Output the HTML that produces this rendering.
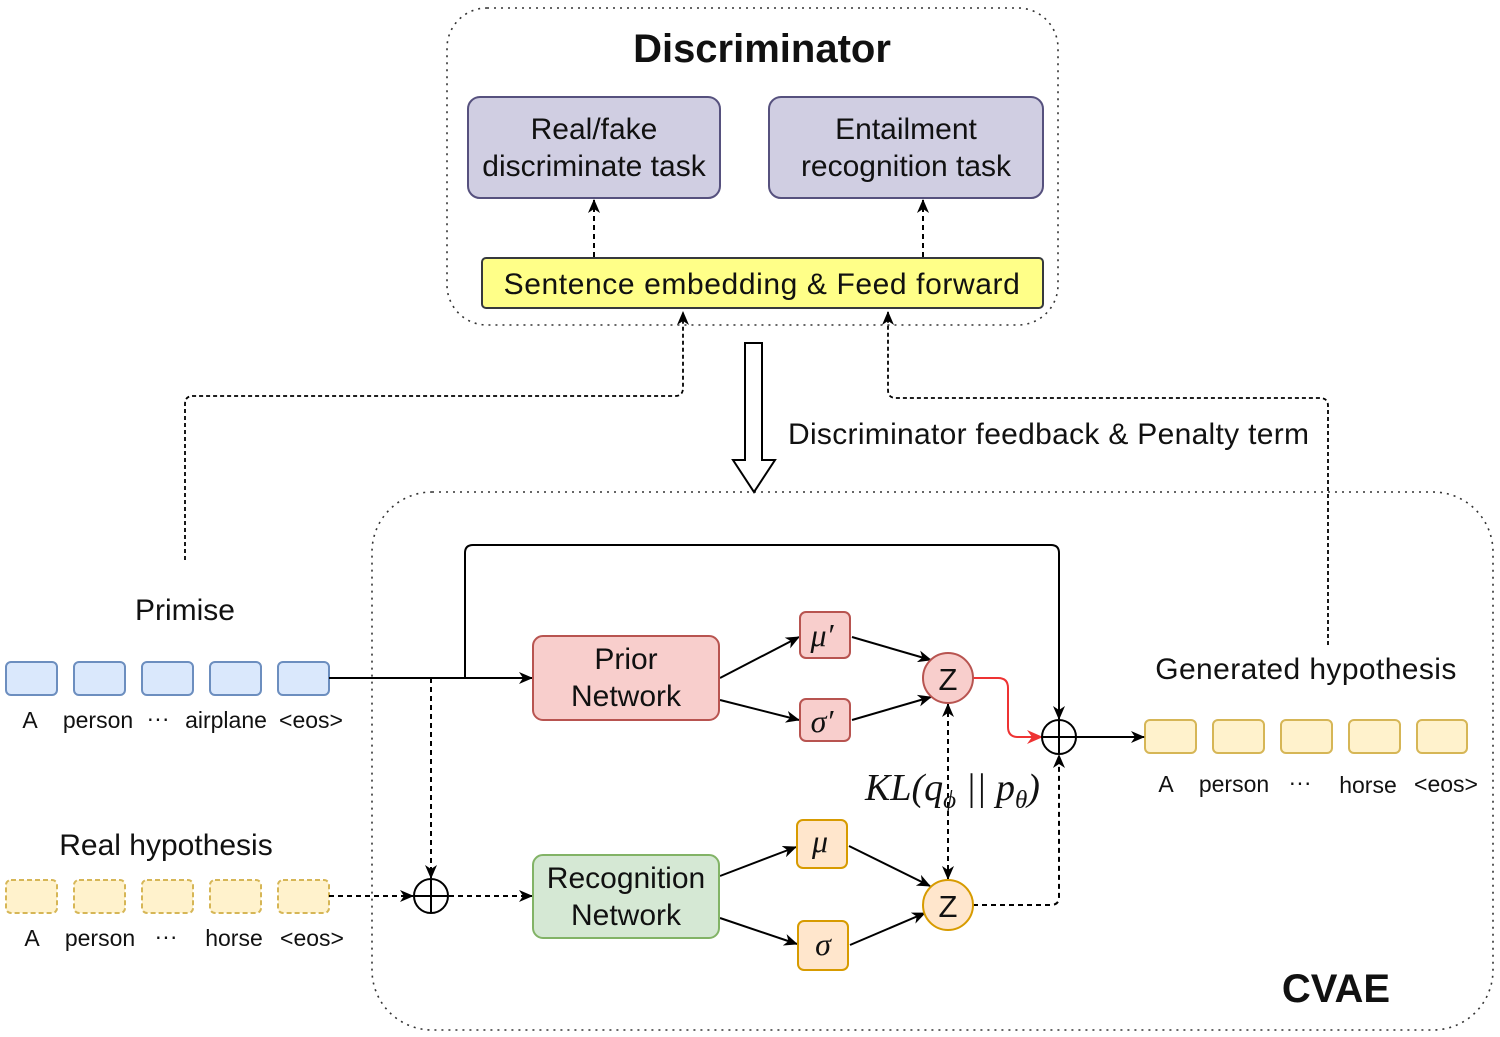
<!DOCTYPE html>
<html><head><style>body{margin:0;background:#fff}svg{display:block}text{font-family:"Liberation Sans",sans-serif;fill:#111}</style></head><body>
<svg width="1500" height="1037" viewBox="0 0 1500 1037" xmlns="http://www.w3.org/2000/svg">
<defs>
<marker id="a" markerWidth="14" markerHeight="12" refX="13" refY="6" orient="auto" markerUnits="userSpaceOnUse"><path d="M0,0 L14,6 L0,12 L4,6 z" fill="#000"/></marker>
<marker id="ar" markerWidth="16" markerHeight="14" refX="15" refY="7" orient="auto" markerUnits="userSpaceOnUse"><path d="M0,0 L16,7 L0,14 L5,7 z" fill="#e33"/></marker>
<marker id="as" markerWidth="14" markerHeight="12" refX="1" refY="6" orient="auto" markerUnits="userSpaceOnUse"><path d="M14,0 L0,6 L14,12 L10,6 z" fill="#000"/></marker>
</defs>
<g fill="none" stroke="#333" stroke-width="1.6" stroke-dasharray="2,5">
<rect x="447" y="8" width="611" height="317" rx="40"/>
<rect x="372" y="492" width="1121" height="538" rx="60"/>
</g>
<text x="762" y="62" font-size="40" font-weight="bold" text-anchor="middle" fill="#222">Discriminator</text>
<rect x="468" y="97" width="252" height="101" rx="12" fill="#d0cee2" stroke="#56517e" stroke-width="2"/>
<rect x="769" y="97" width="274" height="101" rx="12" fill="#d0cee2" stroke="#56517e" stroke-width="2"/>
<g font-size="30" text-anchor="middle">
<text x="594" y="139">Real/fake</text><text x="594" y="176">discriminate task</text>
<text x="906" y="139">Entailment</text><text x="906" y="176">recognition task</text>
</g>
<rect x="482" y="258" width="561" height="50" rx="4" fill="#ffff88" stroke="#36393d" stroke-width="2"/>
<text x="762" y="294" font-size="30" text-anchor="middle" letter-spacing="0.6">Sentence embedding &amp; Feed forward</text>
<g fill="none" stroke="#000" stroke-width="2" stroke-dasharray="5,4">
<path d="M594 257 V200" marker-end="url(#a)"/><path d="M923 257 V200" marker-end="url(#a)"/>
</g>
<g fill="none" stroke="#000" stroke-width="1.8" stroke-dasharray="4,3">
<path d="M185 560 V404 Q185 396 193 396 H675 Q683 396 683 388 V312" marker-end="url(#a)"/>
<path d="M1328 645 V406 Q1328 398 1320 398 H896 Q888 398 888 390 V312" marker-end="url(#a)"/>
</g>
<path d="M745 343 H762 V460 H775 L754 492 L733 460 H745 Z" fill="#fff" stroke="#000" stroke-width="2"/>
<text x="788" y="444" font-size="30" letter-spacing="0.3">Discriminator feedback &amp; Penalty term</text>
<text x="185" y="620" font-size="30" text-anchor="middle">Primise</text>
<g fill="#dae8fc" stroke="#6c8ebf" stroke-width="2">
<rect x="6" y="662" width="51" height="33" rx="5"/><rect x="74" y="662" width="51" height="33" rx="5"/><rect x="142" y="662" width="51" height="33" rx="5"/><rect x="210" y="662" width="51" height="33" rx="5"/><rect x="278" y="662" width="51" height="33" rx="5"/>
</g>
<g font-size="23" text-anchor="middle">
<text x="30" y="728">A</text><text x="98" y="728">person</text><text x="158" y="726">···</text><text x="226" y="728">airplane</text><text x="311" y="728">&lt;eos&gt;</text>
<text x="32" y="946">A</text><text x="100" y="946">person</text><text x="166" y="944">···</text><text x="234" y="946">horse</text><text x="312" y="946">&lt;eos&gt;</text>
<text x="1166" y="792">A</text><text x="1234" y="792">person</text><text x="1300" y="790">···</text><text x="1368" y="793">horse</text><text x="1446" y="792">&lt;eos&gt;</text>
</g>
<text x="166" y="855" font-size="30" text-anchor="middle">Real hypothesis</text>
<g fill="#fff2cc" stroke="#d6b656" stroke-width="2" stroke-dasharray="5,3">
<rect x="6" y="880" width="51" height="33" rx="5"/><rect x="74" y="880" width="51" height="33" rx="5"/><rect x="142" y="880" width="51" height="33" rx="5"/><rect x="210" y="880" width="51" height="33" rx="5"/><rect x="278" y="880" width="51" height="33" rx="5"/>
</g>
<g fill="#fff2cc" stroke="#d6b656" stroke-width="2">
<rect x="1145" y="720" width="51" height="33" rx="5"/><rect x="1213" y="720" width="51" height="33" rx="5"/><rect x="1281" y="720" width="51" height="33" rx="5"/><rect x="1349" y="720" width="51" height="33" rx="5"/><rect x="1417" y="720" width="50" height="33" rx="5"/>
</g>
<text x="1306" y="679" font-size="30" text-anchor="middle" letter-spacing="0.4">Generated hypothesis</text>
<g fill="none" stroke="#000" stroke-width="2">
<path d="M329 678 H532" marker-end="url(#a)"/>
<path d="M465 678 V553 Q465 545 473 545 H1051 Q1059 545 1059 553 V719" marker-end="url(#a)"/>
<path d="M1076 737 H1144" marker-end="url(#a)"/>
<path d="M720 678 L799 637" marker-end="url(#a)"/><path d="M720 700 L799 720" marker-end="url(#a)"/>
<path d="M852 637 L931 660" marker-end="url(#a)"/><path d="M852 720 L931 697" marker-end="url(#a)"/>
<path d="M720 876 L796 847" marker-end="url(#a)"/><path d="M720 918 L797 944" marker-end="url(#a)"/>
<path d="M849 846 L930 886" marker-end="url(#a)"/><path d="M850 945 L925 913" marker-end="url(#a)"/>
</g>
<g fill="none" stroke="#000" stroke-width="2" stroke-dasharray="5,4">
<path d="M431 678 V878" marker-end="url(#a)"/>
<path d="M329 896 H413" marker-end="url(#a)"/><path d="M449 896 H532" marker-end="url(#a)"/>
<path d="M948 879 V704" marker-end="url(#a)" marker-start="url(#as)"/>
<path d="M973 905 H1051 Q1059 905 1059 897 V755" marker-end="url(#a)"/>
</g>
<path d="M973 678 H998 Q1008 678 1008 688 V727 Q1008 737 1018 737 H1042" fill="none" stroke="#e33" stroke-width="2" marker-end="url(#ar)"/>
<g fill="#fff" stroke="#000" stroke-width="2">
<circle cx="431" cy="896" r="17"/><path d="M414 896 H448 M431 879 V913"/>
<circle cx="1059" cy="737" r="17"/><path d="M1042 737 H1076 M1059 720 V754"/>
</g>
<rect x="533" y="636" width="186" height="84" rx="10" fill="#f8cecc" stroke="#b85450" stroke-width="2"/>
<rect x="533" y="855" width="186" height="83" rx="10" fill="#d5e8d4" stroke="#82b366" stroke-width="2"/>
<g font-size="30" text-anchor="middle">
<text x="626" y="669">Prior</text><text x="626" y="706">Network</text>
<text x="626" y="888">Recognition</text><text x="626" y="925">Network</text>
</g>
<rect x="800" y="612" width="50" height="46" rx="6" fill="#f8cecc" stroke="#b85450" stroke-width="2"/>
<rect x="800" y="699" width="50" height="42" rx="6" fill="#f8cecc" stroke="#b85450" stroke-width="2"/>
<rect x="797" y="820" width="50" height="48" rx="6" fill="#ffe6cc" stroke="#d79b00" stroke-width="2"/>
<rect x="798" y="921" width="50" height="49" rx="6" fill="#ffe6cc" stroke="#d79b00" stroke-width="2"/>
<circle cx="948" cy="678" r="25" fill="#f8cecc" stroke="#b85450" stroke-width="2"/>
<circle cx="948" cy="905" r="25" fill="#ffe6cc" stroke="#d79b00" stroke-width="2"/>
<g font-style="italic" font-size="32" text-anchor="middle">
<text x="822" y="646" style="font-family:'Liberation Serif',serif">μ′</text>
<text x="822" y="732" style="font-family:'Liberation Serif',serif">σ′</text>
<text x="820" y="852" style="font-family:'Liberation Serif',serif">μ</text>
<text x="823" y="955" style="font-family:'Liberation Serif',serif">σ</text>
</g>
<text x="948" y="690" font-size="31" text-anchor="middle">Z</text>
<text x="948" y="917" font-size="31" text-anchor="middle">Z</text>
<text x="865" y="800" font-size="38" font-style="italic" style="font-family:'Liberation Serif',serif">KL(q<tspan font-size="25" dy="8">ϕ</tspan><tspan dy="-8"> || p</tspan><tspan font-size="25" dy="8">θ</tspan><tspan dy="-8">)</tspan></text>
<text x="1336" y="1002" font-size="40" font-weight="bold" text-anchor="middle">CVAE</text>
</svg>
</body></html>
